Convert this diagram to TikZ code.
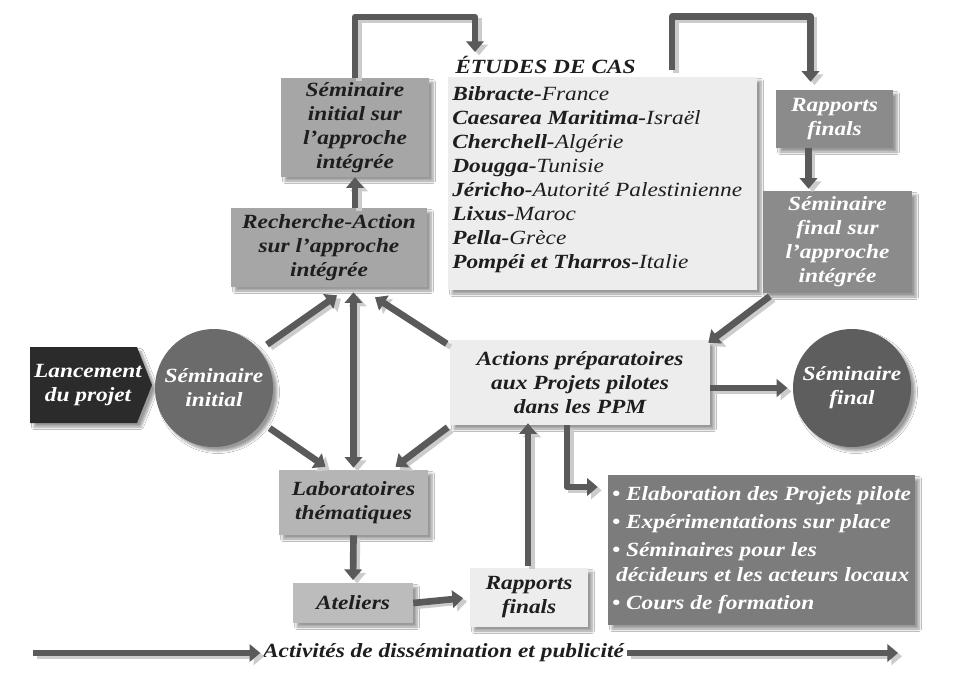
\documentclass[tikz,border=0pt]{standalone}
\usepackage{fontspec}
\setmainfont{Liberation Serif}[FakeStretch=1.16]
\usetikzlibrary{arrows.meta,shadows.blur,calc}
\definecolor{arrowc}{HTML}{5A5A5A}
\definecolor{boxB}{HTML}{A6A6A6}
\definecolor{boxLab}{HTML}{B5B5B5}
\definecolor{boxAt}{HTML}{BCBCBC}
\definecolor{boxL}{HTML}{EDEDED}
\definecolor{boxM}{HTML}{8B8B8B}
\definecolor{boxD}{HTML}{7C7C7C}
\definecolor{lancc}{HTML}{2B2B2B}
\definecolor{circA}{HTML}{6B6B6B}
\definecolor{circB}{HTML}{5E5E5E}
\definecolor{txt}{HTML}{1E1E1E}
\newcommand\diagfont{\fontsize{15.1}{18}\selectfont\itshape\bfseries}
\tikzset{
  shad/.style={blur shadow={shadow xshift=3pt,shadow yshift=-3pt,shadow blur steps=6,shadow opacity=40}},
  box/.style={rectangle, inner sep=2pt, align=center, font=\diagfont, text=txt, shad},
  arr/.style={draw=arrowc, line width=5pt, line join=round, ->,
    preaction={draw=black!20, line width=4pt, transform canvas={shift={(3pt,-2.5pt)}}}},
}
\begin{document}
\begin{tikzpicture}[x=0.75pt,y=-0.75pt,>={Triangle[width=13pt,length=8pt]}]
\useasboundingbox (0,0) rectangle (960,687);
\fill[white] (0,0) rectangle (960,687);

% ---- nodes
\node[box, fill=boxB, minimum width=111pt, minimum height=74.25pt] (semi) at (355,127.5)
  {Séminaire\\initial sur\\l’approche\\intégrée};
\node[box, fill=boxB, minimum width=147pt, minimum height=59.25pt] (rech) at (329,247.5)
  {Recherche-Action\\sur l’approche\\intégrée};
\node[box, fill=boxL, minimum width=231.75pt, minimum height=159.75pt] (etudes) at (602.5,183.5) {};
\node[anchor=base west, inner sep=0, font=\diagfont, text=txt] (titre) at (455,73) {ÉTUDES DE CAS};
\node[anchor=north west, inner sep=0, align=left, font=\diagfont\mdseries, text=txt] (liste) at (452,86)
  {\textbf{Bibracte-}France\\
   \textbf{Caesarea Maritima-}Israël\\
   \textbf{Cherchell-}Algérie\\
   \textbf{Dougga-}Tunisie\\
   \textbf{Jéricho-}Autorité Palestinienne\\
   \textbf{Lixus-}Maroc\\
   \textbf{Pella-}Grèce\\
   \textbf{Pompéi et Tharros-}Italie};
\node[box, fill=boxM, text=white, minimum width=87.75pt, minimum height=43.5pt] (rapA) at (834.5,119)
  {Rapports\\finals};
\node[box, fill=boxM, text=white, minimum width=111.75pt, minimum height=76.5pt] (semf) at (837.5,242)
  {Séminaire\\final sur\\l’approche\\intégrée};

\path[fill=lancc, shad] (30,347) -- (137,347) -- (152,385) -- (137,423) -- (30,423) -- cycle;
\node[font=\diagfont, text=white, align=center, inner sep=0] (lanc) at (88,385) {Lancement\\du projet};

\node[circle, fill=circA, text=white, minimum size=88.5pt, inner sep=0, font=\diagfont, align=center, shad]
  (cinit) at (214,388) {Séminaire\\initial};
\node[circle, fill=circB, text=white, minimum size=88.5pt, inner sep=0, font=\diagfont, align=center, shad]
  (cfin) at (852,388) {Séminaire\\final};

\node[box, fill=boxL, minimum width=195pt, minimum height=63.75pt] (act) at (580,382.5)
  {Actions préparatoires\\aux Projets pilotes\\dans les PPM};
\node[box, fill=boxLab, minimum width=111.75pt, minimum height=48.75pt] (labo) at (353.5,502.5)
  {Laboratoires\\thématiques};
\node[box, fill=boxAt, minimum width=90pt, minimum height=30pt] (atel) at (353,603) {Ateliers};
\node[box, fill=boxL, minimum width=88.5pt, minimum height=44.25pt] (rapB) at (529,597.5)
  {Rapports\\finals};
\node[box, fill=boxD, text=white, align=left, minimum width=230.25pt, minimum height=112.5pt,
  inner sep=1pt, font=\fontsize{15.1}{19}\selectfont\itshape\bfseries] (bul) at (761.5,550)
  {• Elaboration des Projets pilote\\[2pt]
   • Expérimentations sur place\\[2pt]
   • Séminaires pour les\\
   \hspace{3pt}décideurs et les acteurs locaux\\[2pt]
   • Cours de formation};

\node[font=\diagfont, text=txt, inner sep=2pt] (diss) at (443.5,653) {Activités de dissémination et publicité};
\coordinate (dA) at (33,653);
\coordinate (dB) at (898,653);

% ---- connectors
\coordinate (tB) at (475,17);
\coordinate (tEnd) at (475,52);
\draw[arr] (semi.north) -- (semi.north |- tB) -- (tB) -- (tEnd);

\coordinate (rS) at (672,70);
\draw[arr, shorten >=6pt] (rS) |- ($(rapA.north)+(-24,-73)$) -- ($(rapA.north)+(-24,0)$);

\draw[arr] ($(rapA.south)+(-26,0)$) -- ($(semf.north)+(-29,-2)$);
\draw[arr] ($(semf.south west)+(7,3)$) -- ($(act.north east)+(-2,3)$);
\draw[arr] (rech.north -| semi.south) -- (semi.south);

\draw[arr, shorten <=7pt] (cinit.40) -- ($(rech.south)+(8,8)$);
\draw[arr, shorten <=7pt] (cinit.-36) -- ($(labo.north)+(-28,-3)$);
\draw[arr, <->] ($(rech.south -| labo.north)+(0,5)$) -- ($(labo.north)+(0,-2)$);
\draw[arr] ($(act.north west)+(-3,4)$) -- ($(rech.south)+(46,10)$);
\draw[arr] ($(act.south west)+(-2,2)$) -- ($(labo.north)+(42,-3)$);

\draw[arr, shorten >=2pt] (labo.south) -- (atel.north);
\draw[arr, shorten >=5pt] (atel.east) -- (rapB.west);
\draw[arr] ($(rapB.north)+(-1,-2)$) -- ($(act.south)+(-52,-2)$);
\draw[arr] ($(act.south)+(-13,0)$) |- ($(bul.west)+(-10,-63)$);
\draw[arr, shorten >=4pt] (act.east |- cfin.west) -- (cfin.west);

\draw[arr] (dA) -- (diss.west);
\draw[arr] (diss.east) -- (dB);
\end{tikzpicture}
\end{document}
